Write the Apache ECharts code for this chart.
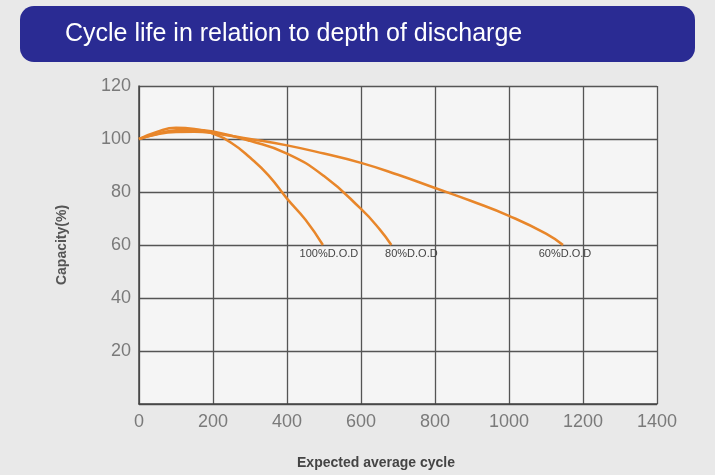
<!DOCTYPE html>
<html>
<head>
<meta charset="utf-8">
<script src="https://cdn.jsdelivr.net/npm/echarts@6/dist/echarts.min.js"></script>
<style>html,body{margin:0;padding:0;background:#e9e9e9;}#c{width:715px;height:475px;}</style>
</head>
<body>
<div id="c"></div>
<script>
var titleText = 'Cycle life in relation to depth of discharge';
var xTicks = [0, 200, 400, 600, 800, 1000, 1200, 1400];
var yTicks = [0, 20, 40, 60, 80, 100, 120];
var seriesNames = ['100%D.O.D', '80%D.O.D', '60%D.O.D'];
var dod100X = [0, 50, 100, 150, 200, 250, 300, 350, 400, 450, 497];
var dod100Y = [100, 102.8, 104.2, 103.8, 102, 98.5, 93, 86.3, 77.5, 69.5, 60];
var dod80X = [0, 50, 100, 150, 200, 300, 400, 500, 600, 650, 682];
var dod80Y = [100, 102, 103.3, 103.5, 102.8, 99.3, 94.5, 86, 73.6, 66, 60];
var dod60X = [0, 50, 100, 150, 200, 300, 400, 500, 600, 700, 800, 900, 1000, 1100, 1146];
var dod60Y = [100, 101.8, 102.6, 102.7, 102.2, 100, 97.6, 94.5, 91, 86.5, 81.5, 76.5, 71, 64.3, 60];

var labelOffsets = [[6, 0], [20, 0], [2, 0]];
var font = 'Liberation Sans, Arial, sans-serif';
function build(xs, ys, idx) {
  return xs.map(function (x, i) {
    var item = { value: [x, ys[i]] };
    if (i === xs.length - 1) {
      item.label = {
        show: true, position: 'bottom', distance: 3, offset: labelOffsets[idx],
        formatter: seriesNames[idx], color: '#444', fontSize: 11, fontFamily: font
      };
    }
    return item;
  });
}
var lineColor = '#e8862a';
function mkSeries(xs, ys, idx) {
  return {
    type: 'line', name: seriesNames[idx], smooth: 0.5,
    showSymbol: true, symbol: 'circle', symbolSize: 0,
    data: build(xs, ys, idx),
    lineStyle: { color: lineColor, width: 2.5 },
    itemStyle: { color: lineColor },
    label: { show: false }
  };
}
var chart = echarts.init(document.getElementById('c'));
chart.setOption({
  backgroundColor: '#e9e9e9',
  animation: false,
  graphic: [
    { type: 'rect', left: 20, top: 6, shape: { width: 675, height: 56, r: 14 },
      style: { fill: '#2a2b93' }, z: 1 },
    { type: 'text', left: 65, top: 22, z: 2,
      style: { text: titleText, fill: '#ffffff', fontSize: 25, fontFamily: font } }
  ],
  grid: { left: 139, right: 58, top: 86, bottom: 70, show: true,
    backgroundColor: '#f5f5f5', borderWidth: 0 },
  xAxis: {
    type: 'value', min: xTicks[0], max: xTicks[xTicks.length - 1], interval: 200,
    name: 'Expected average cycle', nameLocation: 'middle', nameGap: 52,
    nameTextStyle: { color: '#444', fontSize: 14, fontWeight: 'bold',
      fontFamily: font, padding: [0, 44, 0, 0] },
    axisLine: { lineStyle: { color: '#444', width: 1.5 } },
    axisTick: { show: false },
    axisLabel: { color: '#7a7a7a', fontSize: 18, margin: 9, fontFamily: font,
      formatter: function (v) { return String(v); } },
    splitLine: { show: true, lineStyle: { color: '#555', width: 1.3 } }
  },
  yAxis: {
    type: 'value', min: yTicks[0], max: yTicks[yTicks.length - 1], interval: 20,
    name: 'Capacity(%)', nameLocation: 'middle', nameGap: 70,
    nameTextStyle: { color: '#555', fontSize: 14, fontWeight: 'bold', fontFamily: font },
    axisLine: { show: true, lineStyle: { color: '#444', width: 1.5 } },
    axisTick: { show: false },
    axisLabel: { color: '#7a7a7a', fontSize: 18, margin: 8, fontFamily: font,
      formatter: function (v) { return v === 0 ? '' : String(v); } },
    splitLine: { show: true, lineStyle: { color: '#555', width: 1.3 } }
  },
  series: [
    mkSeries(dod100X, dod100Y, 0),
    mkSeries(dod80X, dod80Y, 1),
    mkSeries(dod60X, dod60Y, 2)
  ]
});
</script>
</body>
</html>
